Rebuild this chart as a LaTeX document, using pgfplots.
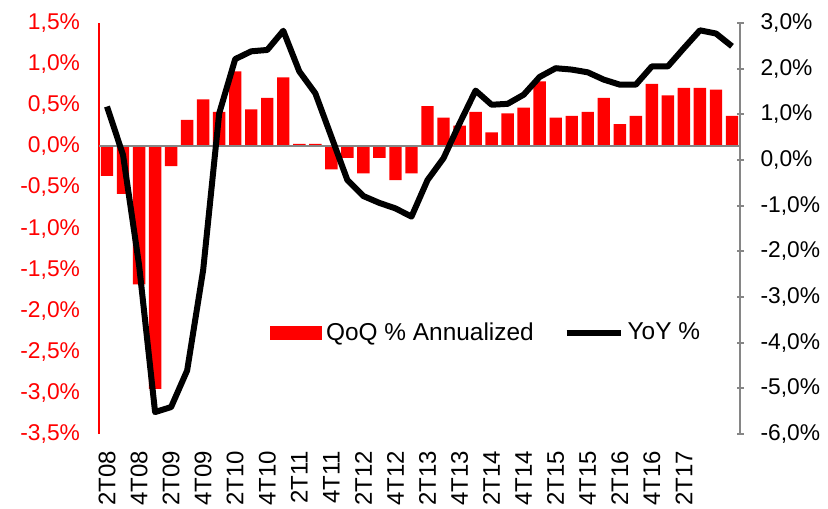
\documentclass[border=0pt]{standalone}
\usepackage{fontspec}
\setmainfont{Liberation Sans}
\usepackage{pgfplots}
\pgfplotsset{compat=1.18}
\definecolor{axgray}{RGB}{134,134,134}

\pgfplotstableread{
x qoq yoy
0 -0.36 1.17
1 -0.58 0.11
2 -1.68 -2.30
3 -2.95 -5.52
4 -0.24 -5.41
5 0.32 -4.61
6 0.57 -2.41
7 0.42 1.02
8 0.91 2.21
9 0.45 2.38
10 0.59 2.41
11 0.84 2.83
12 0.03 1.94
13 0.03 1.46
14 -0.28 0.51
15 -0.14 -0.44
16 -0.33 -0.79
17 -0.14 -0.94
18 -0.41 -1.06
19 -0.33 -1.24
20 0.49 -0.44
21 0.35 0.04
22 0.25 0.80
23 0.42 1.52
24 0.17 1.21
25 0.40 1.23
26 0.47 1.43
27 0.79 1.82
28 0.35 2.01
29 0.37 1.98
30 0.42 1.92
31 0.59 1.76
32 0.27 1.65
33 0.37 1.65
34 0.76 2.05
35 0.62 2.05
36 0.71 2.45
37 0.71 2.84
38 0.69 2.77
39 0.37 2.49
}\datatable

\begin{document}
\begin{tikzpicture}
\pgfplotsset{
  every axis/.append style={
    scale only axis, width=320.5bp, height=205.5bp,
    xmin=-0.5, xmax=39.5,
    tick label style={font=\fontsize{11.4bp}{13bp}\selectfont},
  }
}
\begin{axis}[name=a1,
  ymin=-3.5, ymax=1.5,
  axis y line*=left, axis x line*=bottom,
  x axis line style={draw=none},
  y axis line style={red, line width=1bp},
  xtick style={draw=none}, ytick style={draw=none},
  xtick={0,2,...,36},
  xticklabels={2T08,4T08,2T09,4T09,2T10,4T10,2T11,4T11,2T12,4T12,2T13,4T13,2T14,4T14,2T15,4T15,2T16,4T16,2T17},
  xticklabel style={rotate=90, anchor=east, font=\fontsize{12bp}{14bp}\selectfont},
  xticklabel shift=5bp,
  ytick={-3.5,-3,...,1.5},
  yticklabels={{-3,5\%},{-3,0\%},{-2,5\%},{-2,0\%},{-1,5\%},{-1,0\%},{-0,5\%},{0,0\%},{0,5\%},{1,0\%},{1,5\%}},
  yticklabel style={text=red},
  yticklabel shift=6bp,
]
\addplot[ybar, bar width=6.2bp, bar shift=0pt, fill=red, draw=none] table[x=x,y=qoq] {\datatable};
\draw[axgray, line width=1bp] (axis cs:-0.5,0) -- (axis cs:39.5,0);
\end{axis}

\begin{axis}[
  ymin=-6, ymax=3,
  axis y line*=right, axis x line=none,
  y axis line style={axgray, line width=1bp},
  ytick={-6,-5,...,3},
  yticklabels={{-6,0\%},{-5,0\%},{-4,0\%},{-3,0\%},{-2,0\%},{-1,0\%},{0,0\%},{1,0\%},{2,0\%},{3,0\%}},
  ytick style={axgray, line width=1bp},
  tick align=center, major tick length=3.5bp,
  yticklabel style={anchor=west},
  yticklabel shift=5bp,
  legend columns=2,
  legend style={draw=none, fill=none, font=\fontsize{12.2bp}{14bp}\selectfont,
    at={(rel axis cs:0.2668,0.2457)}, anchor=west, inner sep=0pt,
    /tikz/every even column/.append style={column sep=13bp}},
]
\addlegendimage{legend image code/.code={\fill[red] (0bp,-3.25bp) rectangle (25.5bp,3.25bp);}}
\addlegendentry{QoQ \% Annualized}
\addplot[black, line width=3bp, line join=round, no marks,
  legend image code/.code={\draw[black, line width=3bp] (0bp,0bp) -- (27bp,0bp);}]
  table[x=x,y=yoy] {\datatable};
\addlegendentry{YoY \%}
\end{axis}

\pgfresetboundingbox
\useasboundingbox ([shift={(-49.5bp,-37.5bp)}]a1.south west) rectangle ([shift={(44bp,11.5bp)}]a1.north east);
\end{tikzpicture}
\end{document}
